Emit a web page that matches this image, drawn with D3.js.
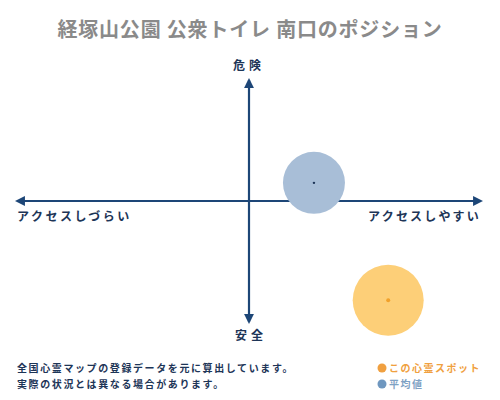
<!DOCTYPE html>
<html>
<head>
<meta charset="utf-8">
<script src="https://d3js.org/d3.v7.min.js"></script>
<style>
  body { margin: 0; background: #fff; }
  svg text { font-family: "Noto Sans CJK JP", sans-serif; }
</style>
</head>
<body>
<svg id="canvas" width="500" height="400"></svg>
<script>
"use strict"

const title = "経塚山公園 公衆トイレ 南口のポジション"
const axisLabels = ["危険", "安全", "アクセスしづらい", "アクセスしやすい"]
const seriesNames = ["この心霊スポット", "平均値"]
// access (x) and danger (y), -10 .. 10
const accessValues = [6.0, 2.8]
const dangerValues = [-8.2, 1.5]
const notes = ["全国心霊マップの登録データを元に算出しています。", "実際の状況とは異なる場合があります。"]

const navy = "#1d4677"
const fills = ["#fdcf78", "#a8bed7"]
const dots = ["#f2a12a", "#1d3557"]
const radii = [35.5, 31]
const legendDots = ["#f0a040", "#6f97bf"]
const textColors = ["#f0a040", "#7fa2c4"]

const svg = d3.select("#canvas")

const x = d3.scaleLinear().domain([-10, 10]).range([17, 481])
const y = d3.scaleLinear().domain([-10, 10]).range([322, 80])

svg.append("text")
  .attr("x", 250).attr("y", 37)
  .attr("text-anchor", "middle")
  .attr("font-size", 20)
  .attr("font-weight", "bold")
  .attr("letter-spacing", 0.8)
  .attr("fill", "#8a8a8a")
  .text(title)

const defs = svg.append("defs")
defs.append("marker")
  .attr("id", "arr")
  .attr("viewBox", "0 0 10 10")
  .attr("refX", 8).attr("refY", 5)
  .attr("markerWidth", 4.5).attr("markerHeight", 4.5)
  .attr("orient", "auto-start-reverse")
  .append("path")
  .attr("d", "M0,0 L10,5 L0,10 z")
  .attr("fill", navy)

// axes
svg.append("line")
  .attr("x1", x(-10)).attr("x2", x(10))
  .attr("y1", y(0)).attr("y2", y(0))
  .attr("stroke", navy).attr("stroke-width", 2.2)
  .attr("marker-start", "url(#arr)")
  .attr("marker-end", "url(#arr)")

svg.append("line")
  .attr("x1", x(0)).attr("x2", x(0))
  .attr("y1", y(-10)).attr("y2", y(10))
  .attr("stroke", navy).attr("stroke-width", 2.2)
  .attr("marker-start", "url(#arr)")
  .attr("marker-end", "url(#arr)")

const lab = svg.append("g")
  .attr("fill", "#1d3557")
  .attr("font-weight", "bold")
  .attr("font-size", 12)

lab.append("text").attr("x", x(0)).attr("y", y(10) - 10)
  .attr("text-anchor", "middle").attr("letter-spacing", 4).text(axisLabels[0])
lab.append("text").attr("x", x(0) + 2).attr("y", y(-10) + 18)
  .attr("text-anchor", "middle").attr("letter-spacing", 4).text(axisLabels[1])
lab.append("text").attr("x", x(-10)).attr("y", y(0) + 20)
  .attr("letter-spacing", 2.5).text(axisLabels[2])
lab.append("text").attr("x", x(10)).attr("y", y(0) + 20)
  .attr("text-anchor", "end").attr("letter-spacing", 2.2).text(axisLabels[3])

// bubbles
const pts = seriesNames.map((n, i) => ({ name: n, ax: accessValues[i], dg: dangerValues[i], i: i }))

svg.append("g").selectAll("circle")
  .data(pts.slice().reverse())
  .enter().append("circle")
    .attr("cx", d => x(d.ax))
    .attr("cy", d => y(d.dg))
    .attr("r", d => radii[d.i])
    .attr("fill", d => fills[d.i])

svg.append("g").selectAll("circle")
  .data(pts)
  .enter().append("circle")
    .attr("cx", d => x(d.ax))
    .attr("cy", d => y(d.dg))
    .attr("r", d => d.i === 0 ? 2 : 1.2)
    .attr("fill", d => dots[d.i])

// notes
svg.append("g").selectAll("text")
  .data(notes)
  .enter().append("text")
    .attr("x", 17)
    .attr("y", (d, i) => 372 + i * 16)
    .attr("font-size", 10)
    .attr("font-weight", "bold")
    .attr("fill", "#1d3557")
    .attr("letter-spacing", 1.6)
    .text(d => d)

// legend
const leg = svg.append("g").selectAll("g")
  .data(seriesNames)
  .enter().append("g")
    .attr("transform", (d, i) => "translate(382," + (368 + i * 16) + ")")

leg.append("circle").attr("r", 4.5).attr("fill", (d, i) => legendDots[i])
leg.append("text")
  .attr("x", 7).attr("y", 4)
  .attr("font-size", 10)
  .attr("font-weight", "bold")
  .attr("letter-spacing", 1.5)
  .attr("fill", (d, i) => textColors[i])
  .text(d => d)
</script>
</body>
</html>
